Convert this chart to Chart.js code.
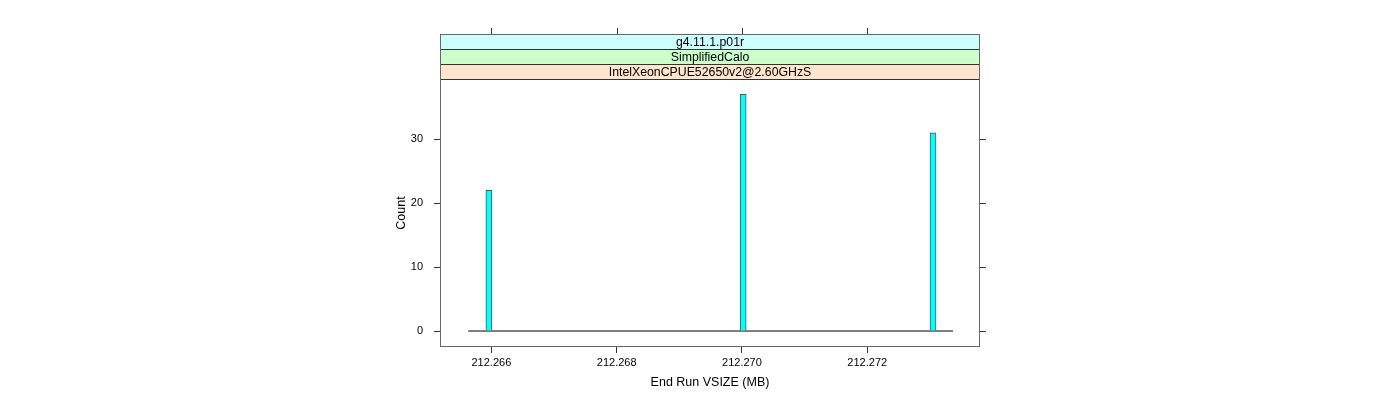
<!DOCTYPE html>
<html>
<head>
<meta charset="utf-8">
<script src="https://cdn.jsdelivr.net/npm/chart.js@4/dist/chart.umd.min.js"></script>
<style>
html,body{margin:0;padding:0;background:#fff;}
#wrap{position:relative;width:1400px;height:400px;}
</style>
</head>
<body>
<div id="wrap"><canvas id="c" width="1400" height="400"></canvas></div>
<script>
// Data
const binCenters = [212.26596, 212.27002, 212.27305];
const counts = [22, 37, 31];
const baselineRange = [212.26563, 212.27337];
const xTicks = [212.266, 212.268, 212.270, 212.272];
const yTicks = [0, 10, 20, 30];
const stripLabels = ['g4.11.1.p01r', 'SimplifiedCalo', 'IntelXeonCPUE52650v2@2.60GHzS'];
const stripColors = ['#CCFFFF', '#CCFFCC', '#FFE5CC'];
const xTitle = 'End Run VSIZE (MB)';
const yTitle = 'Count';

const FONT = 'Liberation Sans, Arial, Helvetica, sans-serif';

const panelPlugin = {
  id: 'panelPlugin',
  afterDraw(chart) {
    const ctx = chart.ctx;
    const a = chart.chartArea;
    const xs = chart.scales.x, ys = chart.scales.y;
    ctx.save();
    // strips
    const sh = 15;
    const n = stripLabels.length;
    for (let i = 0; i < n; i++) {
      const top = a.top - sh * (n - i);
      ctx.fillStyle = stripColors[i];
      ctx.fillRect(a.left, top, a.right - a.left, sh);
      ctx.strokeStyle = '#333';
      ctx.lineWidth = 1;
      ctx.strokeRect(a.left + 0.5, top + 0.5, a.right - a.left - 1, sh);
      ctx.fillStyle = '#000';
      ctx.font = '12.3px ' + FONT;
      ctx.textAlign = 'center';
      ctx.textBaseline = 'middle';
      ctx.fillText(stripLabels[i], (a.left + a.right) / 2, top + sh / 2 + 1);
    }
    // panel border
    ctx.strokeStyle = '#666';
    ctx.lineWidth = 1;
    ctx.strokeRect(a.left + 0.5, a.top - sh * n + 0.5, a.right - a.left - 1, a.bottom - a.top + sh * n - 1);
    // top ticks (above strips)
    ctx.strokeStyle = '#333';
    const stripTop = a.top - sh * n;
    xTicks.forEach(v => {
      const px = Math.round(xs.getPixelForValue(v)) + 0.5;
      ctx.beginPath();
      ctx.moveTo(px, stripTop);
      ctx.lineTo(px, stripTop - 6);
      ctx.stroke();
    });
    // right ticks
    yTicks.forEach(v => {
      const py = Math.round(ys.getPixelForValue(v)) + 0.5;
      ctx.beginPath();
      ctx.moveTo(a.right, py);
      ctx.lineTo(a.right + 6, py);
      ctx.stroke();
    });
    ctx.restore();
  }
};

new Chart(document.getElementById('c'), {
  data: {
    datasets: [
      {
        type: 'line',
        data: [{x: baselineRange[0], y: 0}, {x: baselineRange[1], y: 0}],
        borderColor: '#000',
        borderWidth: 1,
        pointRadius: 0,
        order: 2
      },
      {
        type: 'bar',
        data: binCenters.map((x, i) => ({x: x, y: counts[i]})),
        backgroundColor: '#00FFFF',
        borderColor: '#555',
        borderWidth: 1,
        borderSkipped: 'bottom',
        barThickness: 6,
        order: 1
      }
    ]
  },
  options: {
    responsive: false,
    animation: false,
    events: [],
    layout: {padding: {left: 390, right: 420, top: 79, bottom: 0}},
    plugins: {legend: {display: false}, tooltip: {enabled: false}, title: {display: false}},
    scales: {
      x: {
        type: 'linear',
        min: 212.26518,
        max: 212.2738,
        offset: false,
        afterFit(s) { s.height = 53; },
        afterBuildTicks(s) { s.ticks = xTicks.map(v => ({value: v})); },
        ticks: {
          callback: v => Number(v).toFixed(3),
          font: {family: FONT, size: 11},
          color: '#000',
          padding: 3,
          maxRotation: 0,
          autoSkip: false
        },
        grid: {offset: false, drawOnChartArea: false, drawTicks: true, tickLength: 6, tickColor: '#333'},
        border: {display: false},
        title: {display: true, text: xTitle, color: '#000', font: {family: FONT, size: 12.5, lineHeight: 1.2}, padding: {top: 0, bottom: 10}}
      },
      y: {
        type: 'linear',
        min: -2.5,
        max: 39.4,
        afterFit(s) { s.width = 50; },
        afterBuildTicks(s) { s.ticks = yTicks.map(v => ({value: v})); },
        ticks: {
          font: {family: FONT, size: 11},
          color: '#000',
          padding: 11
        },
        grid: {offset: false, drawOnChartArea: false, drawTicks: true, tickLength: 6, tickColor: '#333'},
        border: {display: false},
        title: {display: true, text: yTitle, color: '#000', font: {family: FONT, size: 12.5, lineHeight: 1.2}, padding: {top: 4, bottom: 0}}
      }
    }
  },
  plugins: [panelPlugin]
});
</script>
</body>
</html>
